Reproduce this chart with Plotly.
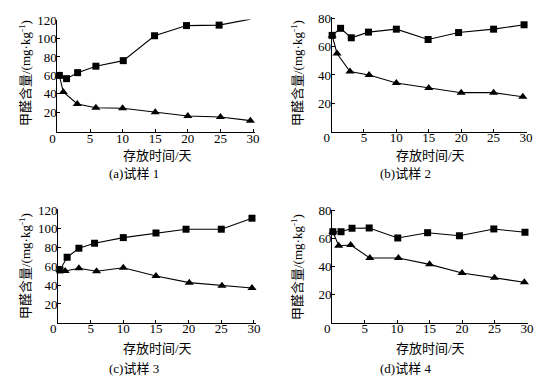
import plotly.graph_objects as go

W, H = 545, 387

# ---- data ----
sq_x_a = [0.3, 1.4, 3.1, 5.9, 10.1, 14.9, 19.8, 24.8, 29.6]
sq_y_a = [60, 56.5, 63, 70, 76, 103, 114, 114.5, 121]
tr_x_a = [0.3, 0.9, 3.05, 5.9, 10, 15, 20, 25, 29.6]
tr_y_a = [60, 42, 29, 25, 24.5, 20, 16, 15, 11]

sq_x_b = [0.1, 1.4, 3.05, 5.7, 10, 14.9, 19.6, 25, 29.7]
sq_y_b = [68, 73, 66.3, 70.3, 72.4, 65.1, 70, 72.4, 75.5]
tr_x_b = [0.1, 0.85, 2.85, 5.8, 10, 15, 20, 25, 29.5]
tr_y_b = [68, 55.2, 42.5, 40, 34.3, 30.8, 27.5, 27.5, 24.6]

sq_x_c = [0.3, 1.4, 3.2, 5.6, 10, 15, 19.6, 25, 29.7]
sq_y_c = [56.2, 69.7, 79.3, 84.6, 90.6, 95.5, 99.5, 99.5, 111.2]
tr_x_c = [0.3, 1.1, 3.2, 5.9, 10, 15, 20.1, 25.1, 29.7]
tr_y_c = [56.2, 55.1, 58, 54.8, 58.6, 49.8, 42.7, 39.5, 37]

sq_x_d = [0.1, 1.36, 3.05, 5.7, 10.1, 14.7, 19.6, 24.9, 29.7]
sq_y_d = [64.9, 64.9, 67.4, 67.6, 60.4, 64.2, 62, 66.9, 64.5]
tr_x_d = [0.1, 1.0, 2.85, 5.8, 10.2, 15, 20, 25, 29.6]
tr_y_d = [64.9, 54.8, 55.3, 46, 46, 41.4, 35.2, 31.8, 28.5]

x_tickvals = [0, 5, 10, 15, 20, 25, 30]
x_ticktext = ["0\u00a0\u00a0\u00a0", "5", "10", "15", "20", "25", "30"]
y_ticks_120 = [20, 40, 60, 80, 100, 120]
y_ticks_80 = [20, 40, 60, 80]

x_title = "存放时间/天"
y_title = "甲醛含量/(mg·kg<sup>-1</sup>)"
captions = ["(a)试样 1", "(b)试样 2", "(c)试样 3", "(d)试样 4"]

FONT = "Liberation Serif, Noto Sans CJK SC, serif"

# panel geometry in pixels: (x0px, x1px, xrange, ytop_px, ybot_px, yrange, yticks)
panels = [
    (57.4, 255.0, [0, 30.3], 19.5, 132.0, [-1.3, 120.6], y_ticks_120),
    (331.5, 527.0, [0, 30.15], 17.0, 131.7, [-0.1, 81.0], y_ticks_80),
    (58.0, 255.9, [0, 30.3], 209.0, 322.8, [0, 121.0], y_ticks_120),
    (332.2, 527.9, [0, 30.15], 209.5, 322.7, [-0.6, 80.9], y_ticks_80),
]
data = [
    (sq_x_a, sq_y_a, tr_x_a, tr_y_a),
    (sq_x_b, sq_y_b, tr_x_b, tr_y_b),
    (sq_x_c, sq_y_c, tr_x_c, tr_y_c),
    (sq_x_d, sq_y_d, tr_x_d, tr_y_d),
]
# annotation positions (px): y-title (x,y), x-title (x,y), caption (x,y)
ann_pos = [
    ((25, 73), (157, 155), (134, 173)),
    ((297, 73), (430, 155), (405, 173)),
    ((25, 266), (157, 348), (134, 368)),
    ((297, 267), (430, 348), (405, 368)),
]

fig = go.Figure()
annotations = []
for i, (p, d, a) in enumerate(zip(panels, data, ann_pos)):
    n = "" if i == 0 else str(i + 1)
    x0, x1, xr, yt, yb, yr, yticks = p
    sx, sy, tx, ty = d
    fig.add_trace(go.Scatter(x=sx, y=sy, mode="lines+markers", xaxis="x" + n, yaxis="y" + n,
                             line=dict(color="black", width=1.1),
                             marker=dict(symbol="square", size=7, color="black"),
                             showlegend=False, cliponaxis=False))
    fig.add_trace(go.Scatter(x=tx, y=ty, mode="lines+markers", xaxis="x" + n, yaxis="y" + n,
                             line=dict(color="black", width=1.1),
                             marker=dict(symbol="triangle-up", size=8, color="black"),
                             showlegend=False, cliponaxis=False))
    fig.layout["xaxis" + n] = dict(
        domain=[x0 / W, x1 / W], range=xr, anchor="y" + n, automargin=False,
        tickvals=x_tickvals, ticktext=x_ticktext, ticks="inside", ticklen=3,
        tickcolor="black", showline=True, linecolor="black", linewidth=1,
        showgrid=False, zeroline=False, tickfont=dict(family=FONT, size=13, color="black"),
        ticklabelstandoff=-6,
    )
    fig.layout["yaxis" + n] = dict(
        domain=[1 - yb / H, 1 - yt / H], range=yr, anchor="x" + n, automargin=False,
        tickvals=yticks, ticks="inside", ticklen=3,
        tickcolor="black", showline=True, linecolor="black", linewidth=1,
        showgrid=False, zeroline=False, tickfont=dict(family=FONT, size=13, color="black"),
        ticklabelstandoff=-3,
    )
    (ytx, yty), (xtx, xty), (cx, cy) = a
    annotations.append(dict(text=y_title, x=ytx / W, y=1 - yty / H, xref="paper", yref="paper",
                            showarrow=False, textangle=-90, xanchor="center", yanchor="middle",
                            font=dict(family=FONT, size=13, color="black")))
    annotations.append(dict(text=x_title, x=xtx / W, y=1 - xty / H, xref="paper", yref="paper",
                            showarrow=False, xanchor="center", yanchor="middle",
                            font=dict(family=FONT, size=13, color="black")))
    annotations.append(dict(text=captions[i], x=cx / W, y=1 - cy / H, xref="paper", yref="paper",
                            showarrow=False, xanchor="center", yanchor="middle",
                            font=dict(family=FONT, size=13, color="black")))

fig.update_layout(width=W, height=H, margin=dict(l=0, r=0, t=0, b=0),
                  paper_bgcolor="white", plot_bgcolor="white", annotations=annotations)
fig.write_html("out.html", config={"displayModeBar": False},
               post_script="document.body.style.margin='0';document.body.style.overflow='hidden';")
